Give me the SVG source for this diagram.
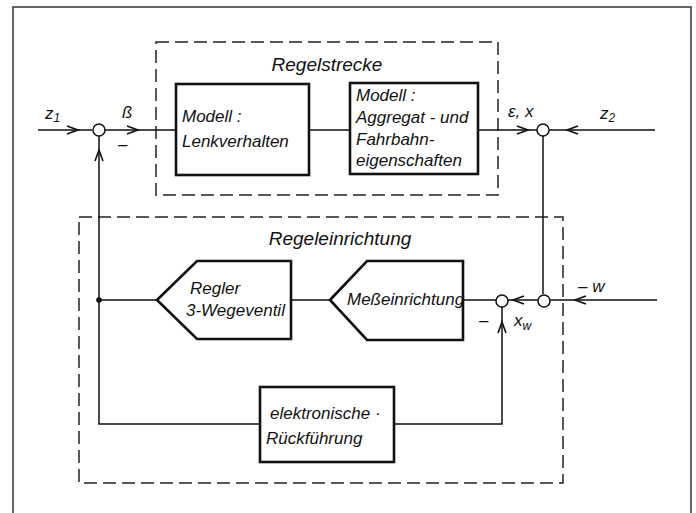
<svg xmlns="http://www.w3.org/2000/svg" width="696" height="513" viewBox="0 0 696 513">
<style>
.t{font-family:"Liberation Sans",Arial,sans-serif;font-style:italic;font-size:17px;fill:#111}
.h{font-size:19px}
.box{fill:#fff;stroke:#111;stroke-width:2.6}
.dash{fill:none;stroke:#222;stroke-width:1.5;stroke-dasharray:13,6}
.ln{fill:none;stroke:#111;stroke-width:1.5}
.sum{fill:#fff;stroke:#111;stroke-width:1.5}
.ar{fill:none;stroke:#111;stroke-width:1.6}
</style>
<rect width="696" height="513" fill="#fff"/>
<!-- outer frame -->
<path d="M13,513 V7 H691 V513" fill="none" stroke="#333" stroke-width="1.5"/>

<g id="regelstrecke">
<rect class="dash" x="156" y="42" width="342" height="153"/>
<text class="t h" x="327" y="71" text-anchor="middle">Regelstrecke</text>
</g>
<g id="regeleinrichtung">
<rect class="dash" x="79" y="217" width="484" height="266"/>
<text class="t h" x="340" y="245" text-anchor="middle">Regeleinrichtung</text>
</g>

<g id="connectors">
<path class="ln" d="M38,130 H92 M104,130 H176 M309,130 H350 M478,130 H537 M549,130 H655"/>
<path class="ln" d="M99,136 V424 H260 M394,424 H502 V307"/>
<path class="ln" d="M543,136 V294"/>
<path class="ln" d="M157,300 H99 M291,300 H330 M463,300 H496 M508,300 H538 M550,300 H657"/>
<circle cx="99" cy="300" r="2.8" fill="#111"/>
<!-- arrowheads -->
<path class="ar" d="M67,126 L78,130 L67,134"/>
<path class="ar" d="M127,126 L138,130 L127,134"/>
<path class="ar" d="M95,161 L99,150 L103,161"/>
<path class="ar" d="M517,126 L528,130 L517,134"/>
<path class="ar" d="M578,126 L567,130 L578,134"/>
<path class="ar" d="M524,296 L513,300 L524,304"/>
<path class="ar" d="M586,296 L575,300 L586,304"/>
<path class="ar" d="M498,333 L502,322 L506,333"/>
</g>

<g id="sum1"><circle class="sum" cx="99" cy="130" r="6"/></g>
<g id="sum2"><circle class="sum" cx="543" cy="130" r="6"/></g>
<g id="sum3"><circle class="sum" cx="502" cy="301" r="6"/></g>
<g id="sum4"><circle class="sum" cx="544" cy="301" r="6"/></g>

<g id="lenkverhalten">
<rect class="box" x="176" y="84" width="133" height="91"/>
<text class="t" x="182" y="122">Modell :</text>
<text class="t" x="182" y="147">Lenkverhalten</text>
</g>
<g id="aggregat">
<rect class="box" x="350" y="83" width="128" height="91"/>
<text class="t" x="356" y="101">Modell :</text>
<text class="t" x="356" y="123">Aggregat - und</text>
<text class="t" x="356" y="145">Fahrbahn-</text>
<text class="t" x="356" y="166">eigenschaften</text>
</g>
<g id="regler">
<path class="box" d="M157,300 L197,261 H291 V339 H197 Z"/>
<text class="t" x="190" y="294">Regler</text>
<text class="t" x="186" y="316">3-Wegeventil</text>
</g>
<g id="messeinrichtung">
<path class="box" d="M330,300 L367,261 H463 V340 H367 Z"/>
<text class="t" x="347" y="305" font-size="16.5">Meßeinrichtung</text>
</g>
<g id="rueckfuehrung">
<rect class="box" x="260" y="387" width="134" height="75"/>
<text class="t" x="270" y="419">elektronische ·</text>
<text class="t" x="266" y="444">Rückführung</text>
</g>

<g id="labels">
<text class="t" x="45" y="119">z<tspan font-size="12" dy="3">1</tspan></text>
<text class="t" x="122" y="118">ß</text>
<text class="t" x="118" y="150">–</text>
<text class="t" x="508" y="117">ε, x</text>
<text class="t" x="600" y="119">z<tspan font-size="12" dy="3">2</tspan></text>
<text class="t" x="578" y="292">– w</text>
<text class="t" x="479" y="326">–</text>
<text class="t" x="514" y="326">x<tspan font-size="12" dy="4">w</tspan></text>
</g>
</svg>
